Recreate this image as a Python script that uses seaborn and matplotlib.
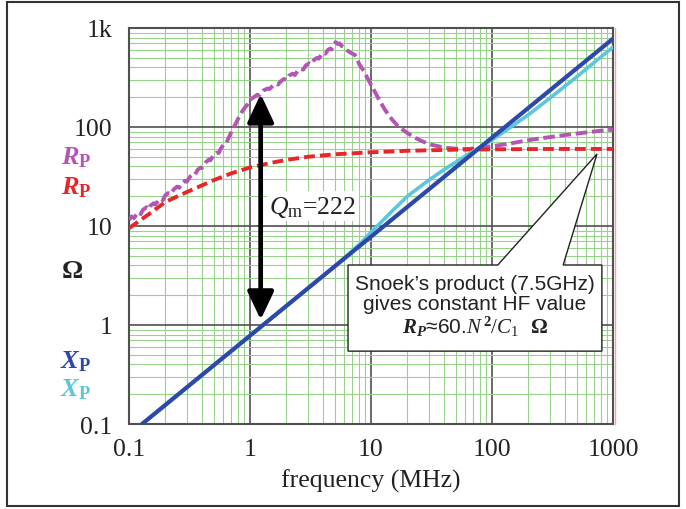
import numpy as np
import pandas as pd
import matplotlib
matplotlib.use("Agg")
import matplotlib.pyplot as plt
import seaborn as sns
from matplotlib.ticker import LogLocator, FixedLocator, FixedFormatter, NullFormatter
from matplotlib.patches import Polygon, Rectangle, FancyArrowPatch

# ---------------- data ----------------
x_ticks = [0.1, 1, 10, 100, 1000]
x_ticklabels = ["0.1", "1", "10", "100", "1000"]
y_ticks = [0.1, 1, 10, 100, 1000]
y_ticklabels = ["0.1", "1", "10", "100", "1k"]

# X_P model (dark blue)
f_xp_model = [0.1, 1, 10, 100, 1000]
xp_model = [0.078, 0.78, 7.8, 78, 780]

# X_P measured (cyan)
f_xp_meas = [0.1, 1, 3, 5, 7, 8.5, 10, 12, 15, 20, 30, 40, 50, 70, 100, 150, 200, 300, 500, 700, 1000]
xp_meas = [0.078, 0.78, 2.34, 3.9, 5.6, 7.0, 8.7, 10.8, 14.2, 20, 29, 37, 44, 57, 74, 104, 133, 195, 320, 450, 640]

# R_P model (red dashed)
f_rp_model = [0.1, 0.15, 0.2, 0.3, 0.5, 0.7, 1, 1.5, 2, 3, 5, 10, 20, 50, 100, 300, 1000]
rp_model = [9.5, 13.5, 17.5, 22, 29, 34, 39, 43.5, 46.5, 50, 53, 55.5, 57.5, 59, 59.5, 60, 60]

# R_P measured (magenta dashed)
f_rp_meas = [0.1, 0.105, 0.11, 0.115, 0.12, 0.125, 0.13, 0.14, 0.145, 0.15, 0.16, 0.165,
             0.175, 0.185, 0.19, 0.2, 0.21, 0.22, 0.235, 0.25, 0.26, 0.275, 0.29, 0.3,
             0.32, 0.34, 0.35, 0.37, 0.39, 0.4, 0.43, 0.46, 0.47, 0.5, 0.53, 0.55, 0.58,
             0.62, 0.64, 0.68, 0.72, 0.75, 0.8, 0.85, 0.9, 0.95, 1.0, 1.05, 1.1, 1.15,
             1.2, 1.3, 1.4, 1.45, 1.55, 1.65, 1.7, 1.8, 1.9, 2.0, 2.1, 2.25, 2.35, 2.5,
             2.65, 2.75, 2.9, 3.1, 3.2, 3.4, 3.6, 3.7, 3.9, 4.1, 4.2, 4.4, 4.6, 4.7, 4.9,
             5.1, 5.3, 5.5, 5.7, 6.0, 6.3, 6.6, 7.0, 7.3, 7.6, 8.0, 8.7, 9.5, 10.5, 11.5,
             13, 15, 17, 20, 23, 27, 32, 38, 45, 55, 65, 80, 100, 130, 170, 220, 300,
             400, 550, 750, 1000]
rp_meas = [11.5, 12.5, 12, 13, 13.8, 13.2, 14.5, 15.5, 14.8, 16, 17, 16.5,
           18, 18.8, 18.2, 20.5, 21.5, 21, 23.5, 25, 24.3, 27, 28.5, 28,
           31.5, 33.5, 33, 37, 39, 38.5, 44, 47, 46, 52, 55, 54.5, 62,
           69, 70, 82, 95, 104, 122, 140, 155, 168, 188, 196, 204, 212,
           210, 235, 245, 242, 262, 272, 268, 290, 305, 300, 330, 345, 335, 375,
           385, 380, 420, 440, 430, 480, 500, 490, 540, 560, 550, 600, 620, 605, 660,
           720, 690, 700, 660, 640, 600, 575, 550, 540, 500, 430, 370, 300, 240, 195,
           150, 118, 100, 87, 78, 71, 66, 63, 61, 60, 60, 62, 64, 67, 71, 75, 79,
           83, 87, 91, 94]

# ---------------- style ----------------
sns.set_theme(style="white")
plt.rcParams["font.family"] = ["Liberation Serif", "DejaVu Serif"]
plt.rcParams["mathtext.fontset"] = "custom"
plt.rcParams["mathtext.rm"] = "Liberation Serif"
plt.rcParams["mathtext.it"] = "Liberation Serif:italic"
plt.rcParams["mathtext.bf"] = "Liberation Serif:bold"
plt.rcParams["mathtext.bfit"] = "Liberation Serif:italic:bold"

C_DBLUE = "#2c48a8"
C_CYAN = "#5cc6da"
C_RED = "#e8262a"
C_MAG = "#b455b4"
C_MAJ = "#505050"
C_MIN = "#97d38b"

fig = plt.figure(figsize=(6.86, 5.10), dpi=100)
ax = fig.add_axes([129 / 686, 1 - 425 / 510, 484 / 686, 396 / 510])
ax.set_xscale("log")
ax.set_yscale("log")
ax.set_xlim(0.1, 1000)
ax.set_ylim(0.1, 1000)

# grid
ax.xaxis.set_minor_locator(LogLocator(base=10, subs=np.arange(2, 10)))
ax.yaxis.set_minor_locator(LogLocator(base=10, subs=np.arange(2, 10)))
ax.xaxis.set_minor_formatter(NullFormatter())
ax.yaxis.set_minor_formatter(NullFormatter())
ax.grid(which="minor", color=C_MIN, lw=0.8, zorder=0)
ax.grid(which="major", color=C_MAJ, lw=1.2, zorder=0.5)
ax.set_axisbelow(True)

ax.xaxis.set_major_locator(FixedLocator(x_ticks))
ax.xaxis.set_major_formatter(FixedFormatter(x_ticklabels))
ax.yaxis.set_major_locator(FixedLocator(y_ticks))
ax.yaxis.set_major_formatter(FixedFormatter(y_ticklabels))
ax.tick_params(which="both", length=0)
ax.tick_params(axis="x", pad=10, labelsize=18.5, colors="#222222")
ax.tick_params(axis="y", pad=12, labelsize=18.5, colors="#222222")
for s in ax.spines.values():
    s.set_color(C_MAJ)
    s.set_linewidth(1.5)

# series
df_c = pd.DataFrame({"f": f_xp_meas, "v": xp_meas})
df_b = pd.DataFrame({"f": f_xp_model, "v": xp_model})
df_r = pd.DataFrame({"f": f_rp_model, "v": rp_model})
df_m = pd.DataFrame({"f": f_rp_meas, "v": rp_meas})

sns.lineplot(data=df_m, x="f", y="v", ax=ax, color=C_MAG, lw=2.8,
             linestyle=(0, (3.0, 1.2)), zorder=3)
sns.lineplot(data=df_r, x="f", y="v", ax=ax, color=C_RED, lw=2.8,
             linestyle=(0, (2.8, 1.3)), zorder=3)
sns.lineplot(data=df_c, x="f", y="v", ax=ax, color=C_CYAN, lw=2.6, zorder=4)
sns.lineplot(data=df_b, x="f", y="v", ax=ax, color=C_DBLUE, lw=3.0, zorder=5)

ax.set_xlabel("frequency (MHz)", fontsize=18.5, labelpad=6, color="#222222")
ax.set_ylabel("")

# pink line just right of the plot
ax.plot([1.004, 1.004], [0, 1], transform=ax.transAxes, color="#f3a3a3",
        lw=1.0, clip_on=False, zorder=6)

# Q arrow
arr = FancyArrowPatch((1.225, 1.13), (1.225, 215), arrowstyle="<|-|>,head_length=1.7,head_width=0.8",
                      mutation_scale=10, color="black", lw=3.4, zorder=7,
                      shrinkA=0, shrinkB=0)
ax.add_patch(arr)
ax.text(0.380, 0.5505, r"$\mathit{Q}_{\mathrm{m}}$=222", transform=ax.transAxes,
        fontsize=18.5, ha="center", va="center", color="#222222", zorder=8,
        bbox=dict(boxstyle="square,pad=0.1", fc="white", ec="none"))

# callout box with wedge
callout = Polygon([(0.4525, 0.4015), (0.762, 0.4015), (0.967, 0.682), (0.897, 0.4015),
                   (0.977, 0.4015), (0.977, 0.184), (0.4525, 0.184)], closed=True,
                  transform=ax.transAxes, fc="white", ec="#222222", lw=1.0, zorder=8)
ax.add_patch(callout)
ax.text(0.715, 0.298,
        "Snoek\u2019s product (7.5GHz)\ngives constant HF value\n"
        r"$\mathbfit{R}_{\mathbfit{P}}$" "\u224860." r"$\mathit{N}^{\,\mathbf{2}}/\mathit{C}_{\mathrm{1}}$" "  " r"$\mathbf{\Omega}$",
        transform=ax.transAxes, ha="center", va="center", fontsize=15,
        family=["Liberation Sans", "DejaVu Sans"], linespacing=1.05,
        color="#222222", zorder=9)

# side labels
fig.text(76 / 686, 1 - 158 / 510, r"$\mathbfit{R}_{\mathbf{P}}$", color=C_MAG, fontsize=19, ha="center", va="center")
fig.text(76 / 686, 1 - 188 / 510, r"$\mathbfit{R}_{\mathbf{P}}$", color=C_RED, fontsize=19, ha="center", va="center")
fig.text(72 / 686, 1 - 272 / 510, r"$\mathbf{\Omega}$", color="#222222", fontsize=19, ha="center", va="center")
fig.text(76 / 686, 1 - 362 / 510, r"$\mathbfit{X}_{\mathbf{P}}$", color=C_DBLUE, fontsize=19, ha="center", va="center")
fig.text(76 / 686, 1 - 390 / 510, r"$\mathbfit{X}_{\mathbf{P}}$", color=C_CYAN, fontsize=19, ha="center", va="center")

# outer frame
fig.patches.append(Rectangle((7 / 686, 3 / 510), 672 / 686, 504 / 510, transform=fig.transFigure,
                             fill=False, ec="#333333", lw=1.5, figure=fig))

fig.savefig("out.png", dpi=100)
